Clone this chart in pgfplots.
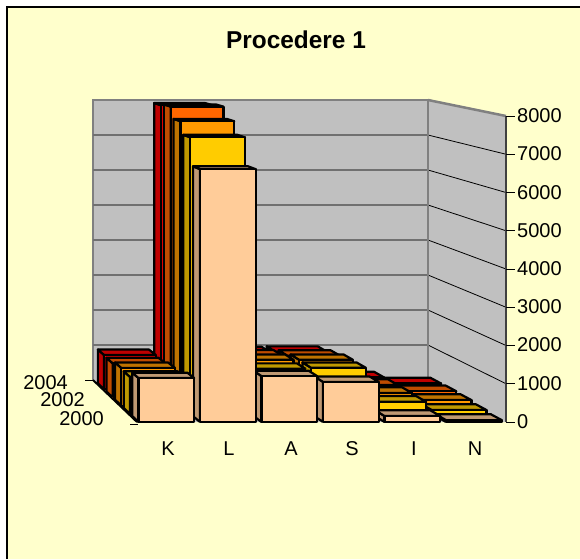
\documentclass[border=0pt]{standalone}
\usepackage{pgfplots}
\usepackage{pgfplotstable}
\pgfplotsset{compat=1.18}
\usepackage{fontspec}
\setmainfont{Liberation Sans}
\definecolor{bg}{HTML}{FFFFCC}
\definecolor{wall}{HTML}{C0C0C0}
\definecolor{wallline}{HTML}{808080}
\definecolor{gridb}{HTML}{707070}
\definecolor{fa}{HTML}{FFCC99}\definecolor{sa}{HTML}{BF9973}
\definecolor{fb}{HTML}{FFCC00}\definecolor{sb}{HTML}{BF9900}
\definecolor{fc}{HTML}{FF9900}\definecolor{sc}{HTML}{BF7300}
\definecolor{fd}{HTML}{FF6600}\definecolor{sd}{HTML}{BF4C00}
\definecolor{fe}{HTML}{FF0000}\definecolor{se}{HTML}{BF0000}
% values per category (rows K L A S I N), series 2000..2004
\pgfplotstableread{
cat d0 d1 d2 d3 d4
K 1150 985 1020 940 960
L 6610 7350 7690 8000 7950
A 1200 1200 1240 1160 1040
S 1050 1225 1240 1150 1050
I 157 320 340 340 330
N 50 100 150 170 160
}\data
\newcommand\lab[1]{\fontsize{20}{24}\selectfont #1}
% projection onto the picture: category position, depth, value
\newcommand\px[3]{\pgfmathsetmacro#1{137-44*#3+369*(1-0.0921*#3)*#2/6}}
\newcommand\py[3]{\pgfmathsetmacro#1{422-42*#2-306*(1-0.085*#2)*(#3/8000)}}
\newcommand\drawbar[3]{% column index, series, row
  \pgfplotstablegetelem{#3}{d#1}\of\data
  \let\val\pgfplotsretval
  \pgfmathsetmacro\ka{#3+0.024}\pgfmathsetmacro\kb{#3+0.93}
  \pgfmathsetmacro\ua{#1*0.195}\pgfmathsetmacro\ub{\ua+0.14}
  \px\xa\ka\ua\px\xb\kb\ua\px\xc\ka\ub\px\xd\kb\ub
  \py\yao\ua{0}\py\yat\ua\val\py\ybo\ub{0}\py\ybt\ub\val
  \edef\tmp{%
   \noexpand\addplot[fill=s#2,draw=black,line width=2.2pt,line join=round] coordinates {(\xa,\yao)(\xa,\yat)(\xc,\ybt)(\xc,\ybo)(\xa,\yao)};
   \noexpand\addplot[fill=s#2,draw=black,line width=2.2pt,line join=round] coordinates {(\xa,\yat)(\xb,\yat)(\xd,\ybt)(\xc,\ybt)(\xa,\yat)};
   \noexpand\addplot[fill=f#2,draw=black,line width=2.2pt,line join=round] coordinates {(\xa,\yao)(\xb,\yao)(\xb,\yat)(\xa,\yat)(\xa,\yao)};
  }\tmp}
\begin{document}
\begin{tikzpicture}
\begin{axis}[scale only axis,width=580pt,height=559pt,xmin=0,xmax=580,ymin=0,ymax=559,y dir=reverse,hide axis,no markers,anchor=north west,at={(0,0)}]
% page and chart area
\addplot[fill=white,draw=none] coordinates {(0,0)(580,0)(580,559)(0,559)(0,0)};
\addplot[fill=bg,draw=none] coordinates {(7,7)(580,7)(580,559)(7,559)(7,7)};
\addplot[draw=black,line width=2pt] coordinates {(7,559)(7,7)(580,7)};
% walls and floor
\addplot[fill=wall,draw=none] coordinates {(93,380)(428,380)(506,422)(137,422)(93,380)};
\addplot[fill=wall,draw=wallline,line width=2.5pt] coordinates {(93,380)(93,100)(428,100)(428,380)};
\addplot[fill=wall,draw=none] coordinates {(428,100)(506,116)(506,422)(428,380)(428,100)};
\addplot[draw=wallline,line width=2.5pt] coordinates {(428,100)(506,116)};
\pgfplotsinvokeforeach{1,...,7}{
  \pgfmathsetmacro\yb{380-280*#1/8}\pgfmathsetmacro\yf{422-306*#1/8}
  \edef\tmp{\noexpand\addplot[draw=gridb,line width=1.3pt] coordinates {(93,\yb)(428,\yb)};
  \noexpand\addplot[draw=black,line width=0.8pt] coordinates {(428,\yb)(506,\yf)};}\tmp
}
\addplot[draw=wallline,line width=2.5pt] coordinates {(428,100)(428,380)};
\addplot[draw=black!75,line width=1.5pt] coordinates {(506,116)(506,422)};
\pgfplotsinvokeforeach{0,...,8}{
  \pgfmathsetmacro\yf{422-306*#1/8}
  \edef\tmp{\noexpand\addplot[draw=black,line width=1pt] coordinates {(506,\yf)(515,\yf)};}\tmp
}
% depth axis
\addplot[draw=black,line width=1pt] coordinates {(85,380)(93,380)};
\addplot[draw=black,line width=1pt] coordinates {(130,424)(138,424)};
\addplot[draw=black,line width=2pt] coordinates {(93,380)(137,422)};
% bars, back to front, right to left
\foreach \d/\c in {4/e,3/d,2/c,1/b,0/a}{
  \foreach \r in {5,4,3,2,1,0}{
    \drawbar{\d}{\c}{\r}
  }
}
% text
\node[anchor=center] at (axis cs:296,40) {\fontsize{24.4}{28}\selectfont\bfseries Procedere 1};
\node[anchor=west,inner sep=0pt] at (axis cs:517,116) {\lab{8000}};
\node[anchor=west,inner sep=0pt] at (axis cs:517,154) {\lab{7000}};
\node[anchor=west,inner sep=0pt] at (axis cs:517,192.5) {\lab{6000}};
\node[anchor=west,inner sep=0pt] at (axis cs:517,230.5) {\lab{5000}};
\node[anchor=west,inner sep=0pt] at (axis cs:517,269) {\lab{4000}};
\node[anchor=west,inner sep=0pt] at (axis cs:517,307) {\lab{3000}};
\node[anchor=west,inner sep=0pt] at (axis cs:517,345) {\lab{2000}};
\node[anchor=west,inner sep=0pt] at (axis cs:517,383.5) {\lab{1000}};
\node[anchor=west,inner sep=0pt] at (axis cs:517,422) {\lab{0}};
\node[anchor=east,inner sep=0pt] at (axis cs:68,383) {\lab{2004}};
\node[anchor=east,inner sep=0pt] at (axis cs:85,400) {\lab{2002}};
\node[anchor=east,inner sep=0pt] at (axis cs:104,419) {\lab{2000}};
\node at (axis cs:168,449) {\lab{K}};
\node at (axis cs:229,449) {\lab{L}};
\node at (axis cs:291,449) {\lab{A}};
\node at (axis cs:352,449) {\lab{S}};
\node at (axis cs:414,449) {\lab{I}};
\node at (axis cs:475,449) {\lab{N}};
\end{axis}
\end{tikzpicture}
\end{document}
